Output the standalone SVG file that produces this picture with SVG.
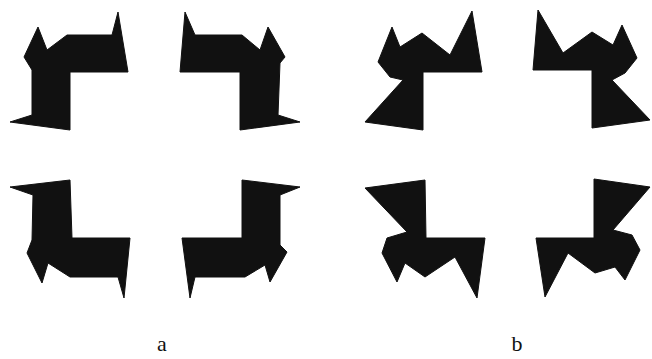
<svg xmlns="http://www.w3.org/2000/svg" width="652" height="359" viewBox="0 0 652 359">
<style>
.s{fill:#111;stroke:#111;stroke-width:1;stroke-linejoin:round}
.l{font-family:"Liberation Serif",serif;font-size:22px;fill:#111;text-anchor:middle}
</style>
<rect width="652" height="359" fill="#fff"/>
<g id="a1"><polygon class="s" points="118,12 128,72 70,72 70,130 10,122 32,115 32,70 24,57 38,27 47,50 67,35 112,35"/></g>
<g id="a2"><polygon class="s" points="185,12 180,72 240,72 240,130 300,122 278,115 280,63 285,57 268,27 260,50 242,35 195,35"/></g>
<g id="a3"><polygon class="s" points="10,187 70,180 72,238 130,238 124,298 118,277 70,277 48,263 42,283 27,253 32,240 33,195"/></g>
<g id="a4"><polygon class="s" points="242,180 300,187 280,195 280,245 287,252 270,282 265,265 245,277 195,277 190,298 182,238 242,238"/></g>
<g id="b1"><polygon class="s" points="472,11 482,72 423,72 423,130 365,122 403,80 390,77 378,62 392,27 400,47 422,33 450,55"/></g>
<g id="b2"><polygon class="s" points="538,10 533,70 592,70 592,128 650,120 612,80 625,73 637,58 622,25 613,45 592,32 563,53"/></g>
<g id="b3"><polygon class="s" points="365,188 425,180 426,238 485,238 477,298 455,257 425,277 405,263 397,282 382,253 387,238 407,232"/></g>
<g id="b4"><polygon class="s" points="594,179 650,187 613,230 632,235 640,250 625,280 615,267 595,273 568,253 545,297 536,238 594,238"/></g>
<text class="l" x="162" y="351">a</text>
<text class="l" x="517" y="351">b</text>
</svg>
